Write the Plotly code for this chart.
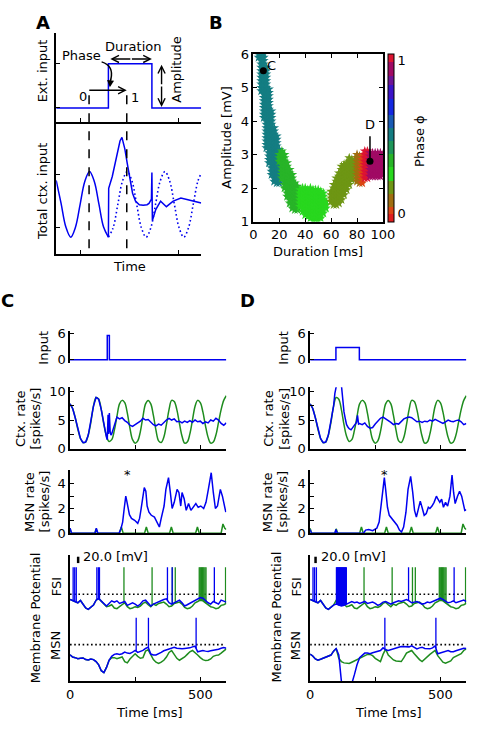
import numpy as np
import plotly.graph_objects as go

W, H = 480, 746
FONT = "DejaVu Sans"
BLUE = "#0000f0"
GREEN = "#1e8c1e"
DOT = "1.6px,2.6px"

# ======================= DATA =======================
# ---- Panel A (schematic, arbitrary units) ----
a_ext_t = [0, 54, 54, 99, 99, 150]
a_ext_v = [0, 0, 1, 1, 0, 0]
a_pre_t = [0, 5, 10, 15, 20, 24.75, 29.5, 34.5, 39.5, 44.25, 49, 54]
a_pre_v = [0.73, 0.04, -0.69, -1, -0.69, 0, 0.69, 1, 0.69, 0, -0.69, -1]
a_resp_t = [54, 54.3, 58, 61, 64, 66, 68, 71, 73.5, 76, 79, 82, 86, 90, 94, 96, 98.5,
            99, 99.5, 103, 108, 114, 121, 129, 140, 150]
a_resp_v = [-1, 0.49, 0.85, 1.24, 1.7, 1.93, 2.04, 1.69, 1.25, 0.79, 0.34, 0.1, -0.01,
            -0.03, -0.01, 0.03, 0.16, 0.97, -0.49, -0.16, 0.1, -0.07, 0.1, 0.19, 0.12, 0.04]
a_free_t = [54, 58.9, 63.75, 68.6, 73.5, 78.4, 83.25, 88.1, 93, 97.9, 102.75, 107.6, 112.5,
            117.4, 122.25, 127.1, 132, 136.9, 141.75, 146.6, 150]
a_free_v = [-1, -0.71, 0, 0.71, 1, 0.71, 0, -0.71, -1, -0.71, 0, 0.71, 1, 0.71, 0, -0.71,
            -1, -0.71, 0, 0.71, 0.94]

# ---- Panel B: duration/amplitude scan, amplitude range per duration column ----
b_dur = [4, 6, 8, 10, 12, 14, 16, 18, 20,
         20, 22, 24, 26, 28, 30, 32, 34,
         36, 38, 40, 42, 44, 46, 48, 50, 52, 54, 56,
         60, 62, 64, 66, 68, 70, 72, 74, 76, 78,
         80, 82, 84, 86, 88, 90, 92, 94, 96, 98, 100]
b_amp_lo = [5.9, 4.9, 4.1, 3.2, 2.75, 2.4, 2.2, 2.15, 2.15,
            2.8, 2.3, 2.0, 1.75, 1.55, 1.4, 1.35, 1.35,
            1.45, 1.3, 1.2, 1.15, 1.1, 1.05, 1.05, 1.05, 1.1, 1.25, 1.4,
            1.6, 1.5, 1.5, 1.55, 1.65, 1.8, 1.95, 2.1, 2.25, 2.45,
            2.2, 2.15, 2.15, 2.3, 2.3, 2.35, 2.35, 2.35, 2.35, 2.35, 2.4]
b_amp_hi = [6.1, 6.1, 6.0, 5.6, 4.9, 4.35, 3.85, 3.5, 3.1,
            3.05, 3.05, 2.95, 2.75, 2.55, 2.4, 2.2, 2.05,
            1.95, 2.0, 2.0, 2.0, 2.0, 2.0, 2.0, 1.95, 1.9, 1.8, 1.65,
            1.9, 2.1, 2.3, 2.45, 2.6, 2.7, 2.8, 2.85, 2.85, 2.85,
            2.95, 3.0, 3.0, 3.05, 3.05, 3.05, 3.05, 3.05, 3.05, 3.05, 3.0]
b_phase = [0.52, 0.52, 0.52, 0.52, 0.52, 0.52, 0.52, 0.52, 0.52,
           0.35, 0.35, 0.35, 0.35, 0.35, 0.35, 0.35, 0.35,
           0.26, 0.26, 0.26, 0.26, 0.26, 0.26, 0.26, 0.26, 0.26, 0.26, 0.26,
           0.17, 0.17, 0.17, 0.17, 0.17, 0.17, 0.17, 0.17, 0.17, 0.17,
           0.09, 0.09, 0.03, 1.0, 1.0, 0.94, 0.94, 0.94, 0.94, 0.94, 0.94]
b_point_c = (7.7, 5.5)
b_point_d = (90, 2.8)

# ---- Panels C / D: time in ms ----
input_c_t = [0, 143, 143, 151, 151, 600]
input_c_v = [0, 0, 5.5, 5.5, 0, 0]
input_d_t = [0, 99, 99, 189, 189, 600]
input_d_v = [0, 0, 2.8, 2.8, 0, 0]

t10 = list(range(0, 601, 10))

ctx_ctrl = [7.8, 7.0, 5.4, 3.4, 1.8, 1.1, 1.2, 2.4, 4.6, 7.4,
            8.9, 8.6, 6.8, 4.2, 2.2, 1.3, 1.6, 3.2, 5.6, 7.8,
            8.4, 8.0, 6.2, 3.6, 1.6, 1.0, 1.4, 3.0, 5.6, 7.8,
            8.4, 7.8, 5.8, 3.2, 1.4, 1.1, 2.0, 4.2, 6.8, 8.4,
            8.2, 6.8, 4.4, 2.2, 1.0, 1.2, 2.6, 5.0, 7.4, 8.4,
            8.0, 6.4, 4.0, 2.0, 1.0, 1.2, 2.4, 4.6, 6.8, 8.4,
            9.2]

ctx_c_t = [0, 10, 20, 30, 40, 50, 60, 70, 80, 90, 100, 110, 120, 130, 140,
           143, 146, 148, 151, 154, 157,
           160, 170, 180, 190, 200, 210, 220, 230, 240, 250, 260, 270, 280, 290,
           300, 310, 320, 330, 340, 350, 360, 370, 380, 390, 400, 410, 420, 430, 440,
           450, 460, 470, 480, 490, 500, 510, 520, 530, 540, 550, 560, 570, 580, 590, 600]
ctx_c_v = [7.8, 7.0, 5.4, 3.4, 1.8, 1.1, 1.2, 2.4, 4.6, 7.4, 8.9, 8.6, 6.8, 4.2, 2.0,
           1.6, 5.9, 2.6, 6.2, 3.0, 2.4,
           2.6, 4.2, 5.5, 5.2, 5.4, 4.9, 4.6, 4.1, 3.9, 4.2, 4.5, 4.8, 5.3, 5.0,
           5.1, 4.6, 4.2, 4.0, 4.3, 4.1, 4.6, 5.0, 5.3, 5.0, 5.2, 4.7, 4.8, 4.5, 4.8,
           4.6, 4.9, 4.6, 5.0, 4.7, 4.8, 4.4, 4.7, 4.5, 5.0, 4.8, 5.3, 5.0, 4.4, 4.1, 4.5]

ctx_d_t = [0, 10, 20, 30, 40, 50, 60, 70, 80, 90,
           95, 100, 110, 118, 122, 126, 130, 136, 140, 145, 150, 157, 165, 170, 178, 182, 186,
           190, 200, 210, 220, 230, 240, 250, 260, 270, 280, 290, 300, 310, 320, 330, 340,
           350, 360, 370, 380, 390, 400, 410, 420, 430, 440, 450, 460, 470, 480, 490, 500,
           510, 520, 530, 540, 550, 560, 570, 580, 590, 600]
ctx_d_v = [7.8, 7.0, 5.4, 3.4, 1.8, 1.1, 1.2, 2.4, 4.6, 7.4,
           9.6, 11.5, 13.0, 12.0, 10.2, 7.8, 6.4, 5.0, 4.2, 3.8, 3.5, 3.3, 3.8, 4.1, 4.6, 5.8, 4.3,
           4.4, 4.2, 4.5, 3.9, 3.6, 3.7, 4.3, 4.8, 5.3, 5.5, 5.2, 5.0, 4.6, 4.2, 4.4, 4.3,
           4.8, 5.2, 5.4, 5.5, 5.4, 5.0, 4.7, 4.8, 4.6, 4.8, 4.7, 5.0, 4.8, 5.1, 4.9, 4.6,
           4.4, 4.7, 5.0, 4.8, 4.7, 4.9, 5.0, 4.7, 4.2, 4.4]

msn_ctrl_t = [0, 5, 95, 100, 106, 190, 197, 204, 286, 293, 300, 382, 389, 396,
              482, 489, 496, 580, 587, 594, 600]
msn_ctrl_v = [0.4, 0, 0, 0.35, 0, 0, 0.5, 0, 0, 0.5, 0, 0, 0.5, 0,
              0, 0.5, 0, 0, 0.75, 0.4, 0.3]

msn_c_t = [0, 6, 96, 101, 107, 188, 196, 202, 208, 214, 218, 222, 228, 236, 248, 260,
           267, 273, 280, 285, 291, 296, 303, 312, 324, 335, 343, 350, 361, 368, 378, 385,
           392, 400, 411, 418, 425, 430, 438, 446, 455, 464, 474, 483, 492, 502, 513, 522,
           531, 542, 550, 558, 566, 577, 585, 593, 598]
msn_c_v = [0.4, 0, 0, 0.4, 0, 0, 0.4, 0.9, 2.0, 3.0, 2.6, 2.0, 1.5, 1.2, 1.05, 0.8,
           1.2, 2.0, 3.3, 3.7, 3.4, 2.2, 1.7, 1.45, 1.3, 0.8, 0.5, 1.2, 2.2, 3.55, 4.5, 3.3,
           2.0, 2.5, 3.55, 3.3, 2.2, 3.3, 2.8, 1.85, 2.4, 1.85, 2.1, 2.4, 2.1, 2.2, 2.0, 2.5,
           3.55, 4.9, 3.3, 2.0, 2.2, 3.55, 3.0, 2.0, 1.7]

msn_d_t = [0, 5, 95, 99, 104, 205, 213, 225, 240, 256, 265, 272, 278, 285, 290, 297,
           304, 314, 324, 334, 343, 351, 359, 368, 376, 386, 394, 401, 408, 417, 423, 431,
           438, 446, 454, 460, 468, 476, 485, 491, 498, 505, 512, 520, 528, 537, 545, 551,
           557, 566, 574, 582, 594, 600]
msn_d_v = [0.3, 0, 0, 0.3, 0, 0, 0.25, 0.3, 0.2, 0.4, 0.9, 2.2, 3.0, 4.5, 3.55, 2.1,
           1.45, 1.2, 0.9, 0.65, 0.25, 0.1, 0.5, 1.7, 3.55, 4.6, 3.3, 1.85, 1.3, 2.2, 2.6, 2.0,
           1.45, 1.6, 2.1, 2.0, 2.2, 2.5, 3.0, 2.75, 2.5, 2.75, 2.1, 2.5, 2.2, 3.0, 4.7, 3.3,
           2.4, 3.0, 3.4, 3.0, 1.85, 1.9]

# membrane potentials [mV], sampled every 10 ms
fsi_c = [-70, -74, -76, -80, -73, -84, -96, -100, -94, -87,
         -72, -67, -75, -84, -90, -82, -74, -78, -74, -82,
         -80, -76, -88, -84, -80, -84, -90, -84, -74, -72,
         -82, -90, -84, -80, -76, -74, -70, -68, -80, -84,
         -80, -74, -72, -80, -90, -86, -82, -78, -72, -68,
         -64, -66, -74, -80, -84, -76, -80, -84, -72, -76,
         -78]
fsi_ctrl = [-70, -74, -76, -80, -73, -84, -96, -100, -94, -87,
            -72, -67, -75, -84, -92, -90, -86, -96, -98, -92,
            -86, -80, -92, -98, -96, -92, -94, -90, -82, -78,
            -86, -92, -84, -88, -82, -80, -78, -84, -92, -90,
            -82, -80, -78, -84, -94, -98, -96, -90, -80, -76,
            -72, -74, -80, -86, -92, -94, -98, -96, -88, -86,
            -82]
fsi_d = [-70, -74, -76, -80, -73, -84, -96, -100, -94, -87,
         -84, -88, -90, -88, -84, -80, -76, -80, -78, -82,
         -80, -76, -82, -80, -78, -82, -88, -84, -78, -76,
         -80, -84, -80, -78, -74, -76, -72, -70, -74, -80,
         -78, -76, -80, -84, -82, -78, -80, -76, -72, -68,
         -66, -70, -76, -80, -78, -74, -80, -78, -74, -72,
         -76]
msn_vm_c = [-79, -86, -88, -91, -90, -89, -94, -95, -92, -94,
            -100, -110, -128, -134, -118, -96, -84, -78, -76, -78,
            -76, -71, -74, -75, -71, -66, -72, -70, -66, -60,
            -56, -77, -80, -80, -77, -72, -67, -64, -61, -58,
            -56, -59, -61, -61, -60, -60, -58, -55, -53, -70,
            -69, -66, -68, -69, -67, -66, -64, -62, -59, -57,
            -59]
msn_vm_c_ctrl = [-79, -86, -88, -91, -90, -89, -94, -95, -92, -94,
                 -100, -110, -128, -134, -118, -96, -88, -88, -91, -89,
                 -86, -100, -104, -92, -84, -76, -84, -90, -88, -68,
                 -64, -80, -94, -102, -106, -102, -96, -86, -72, -66,
                 -80, -90, -96, -92, -86, -78, -70, -66, -72, -80,
                 -88, -94, -97, -96, -92, -84, -81, -80, -74, -66,
                 -61]
msn_vm_d = [-77, -83, -92, -96, -93, -90, -87, -84, -80, -68,
            -60, -80, -160, -190, -200, -195, -170, -140, -110, -88,
            -81, -74, -74, -76, -73, -71, -68, -66, -58, -64,
            -66, -63, -60, -57, -56, -54, -54, -56, -55, -52,
            -57, -61, -58, -56, -60, -61, -61, -58, -52, -76,
            -73, -71, -68, -66, -70, -70, -67, -65, -62, -59,
            -60]
msn_vm_d_ctrl = [-77, -83, -92, -96, -93, -90, -87, -84, -80, -68,
                 -60, -90, -100, -104, -106, -106, -102, -98, -94, -90,
                 -86, -82, -78, -78, -82, -90, -96, -100, -78, -62,
                 -80, -88, -95, -98, -100, -100, -88, -74, -70, -66,
                 -76, -86, -94, -100, -92, -84, -78, -72, -66, -82,
                 -92, -102, -105, -102, -98, -88, -84, -81, -76, -66,
                 -61]

fsi_c_spikes = [12, 18, 24, 103, 109, 113, 374, 392, 554]
fsi_d_spikes = [11, 17, 24, 101, 103, 105, 107, 109, 111, 113, 115, 117, 119, 121, 123,
                125, 127, 129, 131, 133, 135, 137, 139, 378, 553]
fsi_ctrl_spikes = [207, 315, 393, 404, 496, 499, 502, 505, 508, 511, 514, 518, 522, 597]
msn_c_spikes = [254, 301, 484]
msn_d_spikes = [287, 483]

FSI_OFF, MSN_OFF = 320, 160        # vertical stacking offsets [mV]
FSI_THR, MSN_THR = -54, -48
FSI_TOP, MSN_TOP = 29, 34

# ======================= FIGURE =======================
fig = go.Figure()


def ax_ids(i):
    return ("x" if i == 1 else f"x{i}"), ("y" if i == 1 else f"y{i}")


def add(i, x, y, color=BLUE, width=1.5, dash=None, shape="linear", **kw):
    xa, ya = ax_ids(i)
    fig.add_trace(go.Scatter(x=x, y=y, xaxis=xa, yaxis=ya, mode="lines",
                             line=dict(color=color, width=width, dash=dash, shape=shape),
                             hoverinfo="skip", showlegend=False, **kw))


def spikes(times, tg, vg, top, off):
    xs, ys = [], []
    for ts in times:
        base = float(np.interp(ts, tg, vg)) + off
        xs += [ts, ts, None]
        ys += [base, top + off, None]
    return xs, ys


# Panel A
add(1, a_ext_t, a_ext_v)
add(2, a_free_t, a_free_v, dash=DOT, shape="spline", width=1.6)
add(2, a_pre_t, a_pre_v, shape="spline")
add(2, a_resp_t, a_resp_v)

# Panel B
bx, by, bc = [], [], []
for d, lo, hi, ph in zip(b_dur, b_amp_lo, b_amp_hi, b_phase):
    n = int(round((hi - lo) / 0.1)) + 1
    for k in range(n):
        bx.append(d)
        by.append(round(lo + 0.1 * k, 3))
        bc.append(ph)

cb_edges = [-0.053, 0.0, 0.047, 0.133, 0.218, 0.304, 0.39, 0.475, 0.56, 0.647, 0.754,
            0.84, 0.904, 0.99, 1.045]
cb_cols = ["#e01e1e", "#dc4614", "#a06e0f", "#6e9614", "#28d71e", "#28b428", "#1e965a",
           "#147d82", "#195ab4", "#1428e1", "#3c14c8", "#6e1496", "#a00a64", "#dc1432"]
cmin, cmax = cb_edges[0], cb_edges[-1]
cscale = []
for k, c in enumerate(cb_cols):
    cscale.append([(cb_edges[k] - cmin) / (cmax - cmin), c])
    cscale.append([(cb_edges[k + 1] - cmin) / (cmax - cmin), c])
cscale[0][0] = 0.0
cscale[-1][0] = 1.0

fig.add_trace(go.Scatter(
    x=bx, y=by, xaxis="x3", yaxis="y3", mode="markers",
    marker=dict(symbol="star", size=7.5, color=bc, colorscale=cscale, cmin=cmin, cmax=cmax,
                line=dict(width=0),
                colorbar=dict(x=397 / W, xanchor="left", y=1 - 133.5 / H, yanchor="middle",
                              len=171 / H, lenmode="fraction", thickness=6, xpad=0, ypad=0,
                              outlinewidth=1, outlinecolor="black", tickvals=[0, 1],
                              ticktext=["0", "1"], ticks="",
                              tickfont=dict(family=FONT, size=13, color="black"))),
    hoverinfo="skip", showlegend=False))
fig.add_trace(go.Scatter(x=[b_point_d[0], b_point_d[0]], y=[b_point_d[1], 3.55],
                         xaxis="x3", yaxis="y3", mode="lines",
                         line=dict(color="black", width=1.5), hoverinfo="skip",
                         showlegend=False))
fig.add_trace(go.Scatter(x=[b_point_c[0], b_point_d[0]], y=[b_point_c[1], b_point_d[1]],
                         xaxis="x3", yaxis="y3", mode="markers",
                         marker=dict(color="black", size=7),
                         hoverinfo="skip", showlegend=False))

# Panels C and D
panels = [
    dict(base=4, inp=(input_c_t, input_c_v), ctx=(ctx_c_t, ctx_c_v), msn=(msn_c_t, msn_c_v),
         fsi=fsi_c, fsi_spk=fsi_c_spikes, vm=msn_vm_c, vm_ctrl=msn_vm_c_ctrl,
         msn_spk=msn_c_spikes),
    dict(base=8, inp=(input_d_t, input_d_v), ctx=(ctx_d_t, ctx_d_v), msn=(msn_d_t, msn_d_v),
         fsi=fsi_d, fsi_spk=fsi_d_spikes, vm=msn_vm_d, vm_ctrl=msn_vm_d_ctrl,
         msn_spk=msn_d_spikes),
]
for p in panels:
    b = p["base"]
    add(b, *p["inp"])
    add(b + 1, t10, ctx_ctrl, color=GREEN, shape="spline")
    add(b + 1, *p["ctx"])
    add(b + 2, msn_ctrl_t, msn_ctrl_v, color=GREEN)
    add(b + 2, *p["msn"])
    add(b + 3, [0, 590], [FSI_THR + FSI_OFF] * 2, color="black", dash=DOT, width=1.6)
    add(b + 3, [0, 590], [MSN_THR + MSN_OFF] * 2, color="black", dash=DOT, width=1.6)
    add(b + 3, t10, [v + FSI_OFF for v in fsi_ctrl], color=GREEN)
    sx, sy = spikes(fsi_ctrl_spikes, t10, fsi_ctrl, FSI_TOP, FSI_OFF)
    add(b + 3, sx, sy, color=GREEN, width=1.3)
    add(b + 3, t10, [v + MSN_OFF for v in p["vm_ctrl"]], color=GREEN)
    add(b + 3, t10, [v + FSI_OFF for v in p["fsi"]])
    sx, sy = spikes(p["fsi_spk"], t10, p["fsi"], FSI_TOP, FSI_OFF)
    add(b + 3, sx, sy, width=1.3)
    add(b + 3, t10, [v + MSN_OFF for v in p["vm"]])
    sx, sy = spikes(p["msn_spk"], t10, p["vm"], MSN_TOP, MSN_OFF)
    add(b + 3, sx, sy, width=1.3)

# ---------------- axes ----------------
LINE = dict(showline=True, linecolor="black", linewidth=1.5, ticks="inside", ticklen=4,
            tickwidth=1.2, tickcolor="black", showgrid=False, zeroline=False,
            tickfont=dict(family=FONT, size=13, color="black"), fixedrange=True)


def set_axes(i, xpx, ypx, xr, yr, xkw, ykw):
    xa, ya = ax_ids(i)
    xname = "xaxis" if i == 1 else f"xaxis{i}"
    yname = "yaxis" if i == 1 else f"yaxis{i}"
    xd = dict(LINE, domain=[xpx[0] / W, xpx[1] / W], range=xr, anchor=ya)
    xd.update(xkw)
    yd = dict(LINE, domain=[1 - ypx[1] / H, 1 - ypx[0] / H], range=yr, anchor=xa)
    yd.update(ykw)
    fig.layout[xname] = xd
    fig.layout[yname] = yd


NOLAB = dict(showticklabels=False)
set_axes(1, (54, 204), (27, 117), [0, 150], [-0.311, 1.689],
         dict(tickvals=[25, 126], **NOLAB), dict(tickvals=[0, 1], **NOLAB))
set_axes(2, (54, 204), (117, 252), [0, 150], [-1.51, 2.52],
         dict(tickvals=[25, 126], **NOLAB), dict(tickvals=[0.91, -0.70], **NOLAB))
set_axes(3, (258, 392), (48, 219), [0, 100], [1, 6],
         dict(tickvals=[0, 20, 40, 60, 80, 100], mirror="ticks"),
         dict(tickvals=[1, 2, 3, 4, 5, 6], mirror="ticks"))

for b, x0, x1 in [(4, 68.3, 230), (8, 316.7, 478.3)]:
    set_axes(b, (x0, x1), (331, 363), [0, 600], [-0.67, 6.44],
             dict(visible=False), dict(tickvals=[0, 6]))
    set_axes(b + 1, (x0, x1), (388, 451), [0, 600], [0, 10.68],
             dict(tickvals=[0, 250, 500], **NOLAB),
             dict(tickvals=[0, 2.5, 5, 7.5, 10], ticktext=["0", "", "5", "", "10"]))
    set_axes(b + 2, (x0, x1), (473, 537), [0, 600], [0, 5.08],
             dict(tickvals=[0, 250, 500], **NOLAB),
             dict(tickvals=[0, 1, 2, 3, 4], ticktext=["0", "", "2", "", "4"]))
    set_axes(b + 3, (x0, x1), (559, 688), [0, 600], [0, 387],
             dict(tickvals=[0, 250, 500], ticktext=["0", "", "500"]),
             dict(ticks="", showticklabels=False))

# ---------------- annotations ----------------
anns = []


def txt(text, x, y, size=13, angle=0, bold=False, xanchor="center", yanchor="middle"):
    anns.append(dict(text=(f"<b>{text}</b>" if bold else text), x=x / W, y=1 - y / H,
                     xref="paper", yref="paper", showarrow=False, textangle=angle,
                     font=dict(family=FONT, size=size, color="black"),
                     xanchor=xanchor, yanchor=yanchor))


def arrow(x0, y0, x1, y1, head=5):
    anns.append(dict(x=x1 / W, y=1 - y1 / H, xref="paper", yref="paper", ax=x0 - x1,
                     ay=y0 - y1, axref="pixel", ayref="pixel", showarrow=True,
                     arrowhead=head, arrowsize=1, arrowwidth=1.4, arrowcolor="black",
                     text=""))


# Panel A
txt("A", 40, 16, size=18, bold=True)
txt("Ext. input", 40, 65, angle=-90)
txt("Total ctx. input", 40, 188, angle=-90)
txt("Time", 130, 265)
txt("Phase", 80, 49)
txt("Duration", 133, 40)
txt("Amplitude", 179, 64, angle=-90)
txt("0", 82, 91)
txt("1", 135, 92)
arrow(131.5, 53, 110, 53)
arrow(131.5, 53, 153, 53)
arrow(163, 80, 163, 59)
arrow(163, 80, 163, 102)
arrow(88, 85, 127, 85)
arrow(110.5, 72, 109.5, 82, head=2)

# Panel B
txt("B", 219, 16, size=18, bold=True)
txt("Amplitude [mV]", 230, 133, angle=-90)
txt("Duration [ms]", 325, 250)
txt("Phase \u03d5", 430, 137, angle=-90)
txt("C", 276.5, 60)
txt("D", 379, 120)

# Panels C / D
for dx, letter in [(0, "C"), (248.4, "D")]:
    txt(letter, 4 + dx, 300, size=18, bold=True)
    txt("Input", 40 + dx, 348, angle=-90)
    txt("Ctx. rate", (17 if letter == "C" else 25) + dx, 420, angle=-90)
    txt("[spikes/s]", (33 if letter == "C" else 41.5) + dx, 420, angle=-90)
    txt("MSN rate", (27 if letter == "C" else 25) + dx, 505, angle=-90)
    txt("[spikes/s]", (42 if letter == "C" else 40) + dx, 505, angle=-90)
    txt("Membrane Potential", 33 + dx, 623, angle=-90)
    txt("FSI", 54 + dx, 592, angle=-90)
    txt("MSN", 54 + dx, 652, angle=-90)
    txt("Time [ms]", (150 if letter == "C" else 149.6) + dx, 720)
    txt("20.0 [mV]", 79.5 + dx - (2 if letter == "D" else 0), 561, xanchor="left")
txt("*", 127.7, 477)
txt("*", 393.3, 477)

fig.update_layout(annotations=anns)

# ---------------- shapes ----------------
shapes = []
for xp in (88, 127):
    shapes.append(dict(type="line", xref="paper", yref="paper", x0=xp / W, x1=xp / W,
                       y0=1 - 90 / H, y1=1 - 252 / H,
                       line=dict(color="black", width=1.5, dash="dash")))
shapes.append(dict(type="path", xref="paper", yref="paper",
                   path=f"M {101 / W},{1 - 56 / H} Q {114 / W},{1 - 60 / H} {110.5 / W},{1 - 74 / H}",
                   line=dict(color="black", width=1.5)))
for xp in (76.7, 322.3):
    shapes.append(dict(type="line", xref="paper", yref="paper", x0=xp / W, x1=xp / W,
                       y0=1 - 561 / H, y1=1 - 567.5 / H, line=dict(color="black", width=2.5)))
fig.update_layout(shapes=shapes)

fig.update_layout(width=W, height=H, margin=dict(l=0, r=0, t=0, b=0),
                  paper_bgcolor="white", plot_bgcolor="white", showlegend=False,
                  font=dict(family=FONT, size=13, color="black"))

fig.write_html("out.html")
